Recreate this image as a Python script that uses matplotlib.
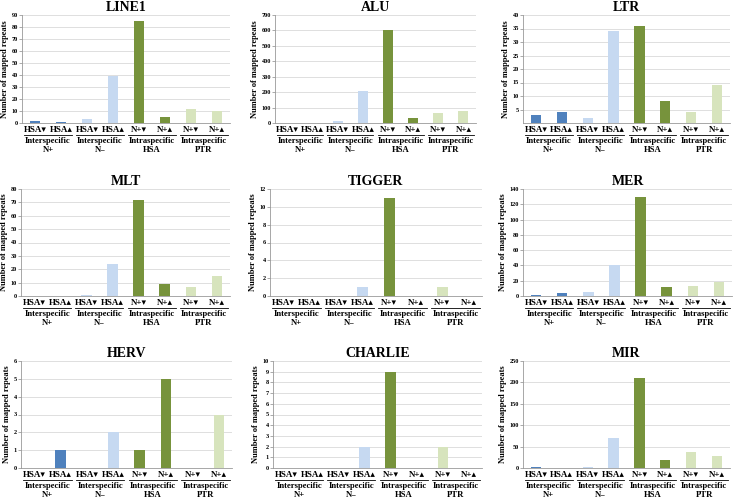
import matplotlib
matplotlib.use("Agg")
import matplotlib.pyplot as plt
import matplotlib.transforms as mtransforms

plt.rcParams['font.family'] = ['Liberation Serif', 'DejaVu Sans']
plt.rcParams['font.weight'] = 'bold'

# categories
tick_labels = ["HSA\u25BE", "HSA\u25B4", "HSA\u25BE", "HSA\u25B4",
               "N+\u25BE", "N+\u25B4", "N+\u25BE", "N+\u25B4"]
group_labels = ["Interspecific\nN+", "Interspecific\nN\u2013",
                "Intraspecific\nHSA", "Intraspecific\nPTR"]

# mapped repeat counts per repeat family
line1 = [2, 1, 3, 39, 85, 5, 12, 10]
alu = [3, 3, 10, 210, 600, 35, 62, 75]
ltr = [3, 4, 2, 34, 36, 8, 4, 14]
mlt = [0, 0, 1, 24, 72, 9, 7, 15]
tigger = [0, 0, 0, 1, 11, 0, 1, 0]
mer = [1, 4, 5, 40, 129, 12, 13, 18]
herv = [0, 1, 0, 2, 1, 5, 0, 3]
charlie = [0, 0, 0, 2, 9, 0, 2, 0]
mir = [2, 0, 3, 71, 210, 18, 38, 29]

titles = ["LINE1", "ALU", "LTR", "MLT", "TIGGER", "MER", "HERV", "CHARLIE", "MIR"]
series = [line1, alu, ltr, mlt, tigger, mer, herv, charlie, mir]
yticks = [list(range(0, 91, 10)), list(range(0, 701, 100)), list(range(5, 41, 5)),
          list(range(0, 81, 10)), list(range(0, 13, 2)), list(range(0, 141, 20)),
          list(range(0, 7)), list(range(0, 11)), list(range(0, 251, 50))]

colors = ['#4f81bd', '#4f81bd', '#c6d9f1', '#c6d9f1',
          '#77933c', '#77933c', '#d7e4bd', '#d7e4bd']

W, H = 735, 500
# axes boxes in pixels: left, top, right, bottom
boxes = [(22, 15, 230, 123), (275, 15, 476, 123), (523, 15, 730, 123),
         (21, 189, 230, 296), (270, 189, 482, 296), (523, 189, 732, 296),
         (21, 361, 232, 468), (273, 361, 482, 468), (523, 361, 730, 468)]

fig = plt.figure(figsize=(W / 100, H / 100), dpi=100)

for title, vals, yt, (l, t, r, b) in zip(titles, series, yticks, boxes):
    ax = fig.add_axes([l / W, (H - b) / H, (r - l) / W, (b - t) / H])
    x = list(range(len(vals)))
    ax.bar(x, vals, width=0.4, color=colors, zorder=3)
    ax.set_xlim(-0.5, len(vals) - 0.5)
    ax.set_ylim(0, yt[-1])
    ax.set_yticks(yt)
    ax.tick_params(axis='y', labelsize=4.5, length=2, width=0.5, color='#888888', pad=1)
    ax.set_xticks(x)
    ax.set_xticklabels(tick_labels, fontsize=6.5, fontweight='bold')
    ax.tick_params(axis='x', length=0, pad=2)
    ax.grid(axis='y', color='#d9d9d9', linewidth=0.6, zorder=0)
    for s in ['top', 'right']:
        ax.spines[s].set_visible(False)
    for s in ['left', 'bottom']:
        ax.spines[s].set_color('#999999')
        ax.spines[s].set_linewidth(0.6)
    ax.set_title(title, fontsize=10, fontweight='bold', pad=3)
    ax.set_ylabel("Number of mapped repeats", fontsize=6, fontweight='bold', labelpad=2)

    line_tr = ax.get_xaxis_transform() + mtransforms.ScaledTranslation(0, -12 / 100, fig.dpi_scale_trans)
    text_tr = ax.get_xaxis_transform() + mtransforms.ScaledTranslation(0, -14 / 100, fig.dpi_scale_trans)
    for g, lab in enumerate(group_labels):
        x0, x1 = 2 * g - 0.42, 2 * g + 1 + 0.42
        ax.plot([x0, x1], [0, 0], color='black', linewidth=0.6,
                transform=line_tr, clip_on=False)
        ax.text(2 * g + 0.5, 0, lab, transform=text_tr, ha='center', va='top',
                fontsize=6.2, fontweight='bold', linespacing=1.1)

fig.savefig("out.png", dpi=100)
